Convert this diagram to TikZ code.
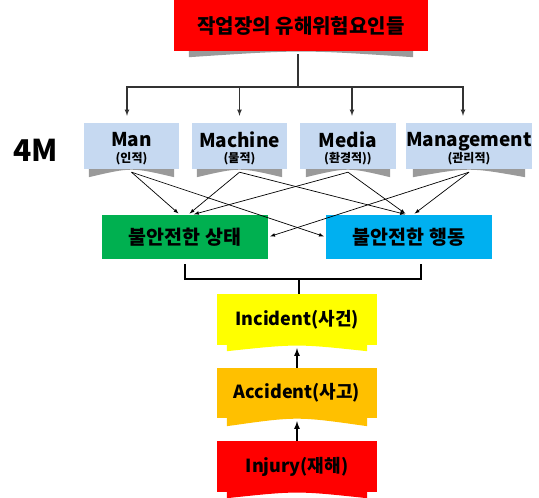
\documentclass[tikz,border=0pt]{standalone}
\usepackage{fontspec}
\setmainfont{Noto Sans CJK KR}
\usetikzlibrary{calc}

\definecolor{headred}{HTML}{FF0000}
\definecolor{mblue}{HTML}{C6D9F1}
\definecolor{footgray}{HTML}{9A9A9A}
\definecolor{stategreen}{HTML}{00B050}
\definecolor{actblue}{HTML}{00B0F0}
\definecolor{incyellow}{HTML}{FFFF00}
\definecolor{accorange}{HTML}{FFC000}

\newcommand{\sizept}[1]{\fontsize{#1}{#1}\selectfont}
\newcommand{\mlabel}[2]{\raisebox{-3pt}[\dimexpr\height+3pt\relax][\dimexpr\depth+3pt\relax]{\begin{tabular}{@{}c@{}}\sizept{19}#1\\[2pt]\sizept{12}#2\end{tabular}}}
% band under a box with a curved lower edge
\newcommand{\wavefoot}[4]{%
  \fill[#2] ($(#1.south west)+(#3,0)$) -- ($(#1.south east)+(-#3,0)$)
    -- ($(#1.south east)+(-#3,#4)$) .. controls ($(#1.south)+(0,-#4/4)$) .. ($(#1.south west)+(#3,#4)$) -- cycle;}

\tikzstyle{box}=[inner sep=0pt, align=center]
\tikzstyle{headbox}=[box, fill=headred, minimum width=254pt, minimum height=51pt, font=\bfseries\sizept{20}]
\tikzstyle{mbox}=[box, fill=mblue, minimum height=46pt, font=\bfseries]
\tikzstyle{unsafebox}=[box, minimum width=166pt, minimum height=44pt, font=\bfseries\sizept{19.5}]
\tikzstyle{chainbox}=[box, minimum width=160pt, font=\bfseries\sizept{18}]
\tikzstyle{arrow}=[-latex]
\tikzstyle{tree}=[line width=1.1pt, black!80]
\tikzstyle{cross}=[line width=0.7pt, -latex, shorten >=2pt]
\tikzstyle{bracket}=[line width=1.5pt]
\tikzstyle{uparrow}=[line width=1.6pt, -latex]

\begin{document}
\begin{tikzpicture}[x=1pt, y=-1pt]
  \useasboundingbox (0,0) rectangle (539,498);

  \node[headbox] (hazard) at (301,25.5) {작업장의 유해위험요인들};
  \node[font=\bfseries\sizept{30}] (fourm) at (36,150) {4M};
  \node[mbox, minimum width=95pt] (man) at (131.5,146) {\mlabel{Man}{(인적)}};
  \node[mbox, minimum width=95pt] (machine) at (239.5,146) {\mlabel{Machine}{(물적)}};
  \node[mbox, minimum width=96pt] (media) at (348,146) {\mlabel{Media}{(환경적))}};
  \node[mbox, minimum width=120pt] (mgmt) at (469,146) {\mlabel{Management}{(관리적)}};
  \node[unsafebox, fill=stategreen] (state) at (185,237) {불안전한 상태};
  \node[unsafebox, fill=actblue] (act) at (409,237) {불안전한 행동};
  \node[chainbox, fill=incyellow, minimum height=51pt] (incident) at (297,319.5) {Incident(사건)};
  \node[chainbox, fill=accorange, minimum height=50pt] (accident) at (297,393) {Accident(사고)};
  \node[chainbox, fill=headred, minimum height=51pt] (injury) at (297,466.5) {Injury(재해)};

  \wavefoot{hazard}{footgray}{15}{6}
  \foreach \m/\i in {man/5,machine/5,media/6,mgmt/7}
    \wavefoot{\m}{footgray}{\i}{8};
  \wavefoot{incident}{incyellow}{10}{6}
  \wavefoot{accident}{accorange}{10}{8}
  \wavefoot{injury}{headred}{10}{6}

  \coordinate (hazardfoot) at (298,54);
  \coordinate (split) at (298,87);
  \draw[tree] (hazardfoot) -- (split);
  \foreach \m/\d in {man/-4.5,machine/0,media/4,mgmt/-6}
    \draw[tree, arrow, shorten >=7pt] (split) -| ([xshift=\d pt]\m.north);

  \foreach \m in {man,machine,media,mgmt}
    \coordinate (\m-foot) at ($(\m.south)+(0,3)$);
  \draw[cross] (man-foot) -- ([xshift=-5pt]state.north);
  \draw[cross] (man-foot) -- (act.west);
  \draw[cross] (machine-foot) -- ([xshift=3pt]state.north);
  \draw[cross] (machine-foot) -- ([xshift=-2pt]act.north);
  \draw[cross] (media-foot) -- ([xshift=7pt]state.north);
  \draw[cross] (media-foot) -- ([xshift=-2pt]act.north);
  \draw[cross] (mgmt-foot) -- ([xshift=4pt]act.north);
  \draw[cross] (mgmt-foot) -- (state.east);

  \coordinate (join) at (299,279);
  \draw[bracket] ([yshift=-5pt]state.south) |- (join) -| ([xshift=12pt,yshift=-5pt]act.south);
  \draw[bracket] (join) -- (join |- incident.north);

  \coordinate (incident-foot) at ($(incident.south)+(0,3)$);
  \coordinate (accident-foot) at ($(accident.south)+(0,3)$);
  \draw[uparrow] (accident) -- (incident-foot);
  \draw[uparrow] (injury) -- (accident-foot);
\end{tikzpicture}
\end{document}
